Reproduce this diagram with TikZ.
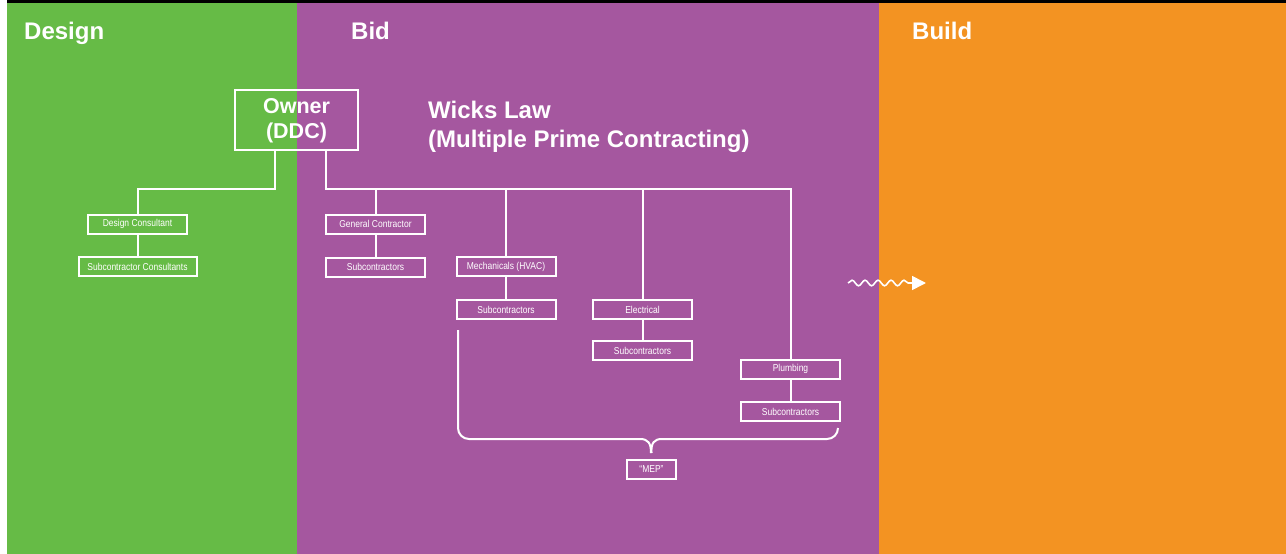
\documentclass[tikz,border=0pt]{standalone}
\usepackage{fontspec}
\setmainfont{Liberation Sans}
\newfontfamily\narrowfont[FakeStretch=0.85]{Liberation Sans}
\usetikzlibrary{decorations.pathmorphing,arrows.meta}
\definecolor{dgreen}{HTML}{66BB46}
\definecolor{dpurple}{HTML}{A5579F}
\definecolor{dorange}{HTML}{F39322}
\tikzset{
  phase/.style={text=white, font=\bfseries\fontsize{24}{28}\selectfont, anchor=base west, inner sep=0},
  bigbox/.style={draw=white, line width=2pt, text=white, align=center, inner sep=0,
     font=\bfseries\fontsize{21.5}{25}\selectfont},
  smallbox/.style={draw=white, line width=2pt, text=white, inner sep=0,
     minimum width=99, minimum height=19, font=\narrowfont\fontsize{10}{11}\selectfont},
  link/.style={draw=white, line width=2pt},
}
\begin{document}
\begin{tikzpicture}[x=1pt,y=-1pt]
\useasboundingbox (0,0) rectangle (1286,554);
\fill[white] (0,0) rectangle (1286,554);
\fill[dgreen] (7,0) rectangle (297,554);
\fill[dpurple] (297,0) rectangle (879,554);
\fill[dorange] (879,0) rectangle (1286,554);
\fill[black] (7,0) rectangle (1286,3);

\node[phase] (design) at (24,39) {Design};
\node[phase] (bid) at (351,39) {Bid};
\node[phase] (build) at (912,39) {Build};

\node[bigbox, minimum width=123, minimum height=60, text depth=4pt] (owner) at (296.5,120) {Owner\\(DDC)};
\node[text=white, font=\bfseries\fontsize{24}{29}\selectfont, align=left, anchor=west, inner sep=0] (wicks) at (428,127) {Wicks Law\\(Multiple Prime Contracting)};

\node[smallbox] (dc) at (137.5,224) {Design Consultant};
\node[smallbox, minimum width=118] (sc) at (137.5,266.5) {Subcontractor Consultants};

\node[smallbox] (gc) at (375.5,224) {General Contractor};
\node[smallbox] (gcs) at (375.5,267) {Subcontractors};
\node[smallbox] (mech) at (506,266.5) {Mechanicals (HVAC)};
\node[smallbox] (mechs) at (506,309.5) {Subcontractors};
\node[smallbox] (el) at (642.5,309.5) {Electrical};
\node[smallbox] (els) at (642.5,350.5) {Subcontractors};
\node[smallbox] (pl) at (790.5,369) {Plumbing};
\node[smallbox] (pls) at (790.5,411.5) {Subcontractors};
\node[smallbox, minimum width=49] (mep) at (651.5,469.5) {“MEP”};

\coordinate (j1) at (275,189);
\coordinate (j2) at (326,189);
\draw[link] (owner.south -| j1) -- (j1) -| (dc.north);
\draw[link] (dc.south) -- (sc.north);
\draw[link] (owner.south -| j2) -- (j2) -| (pl.north);
\draw[link] (gc.north |- j2) -- (gc.north);
\draw[link] (mech.north |- j2) -- (mech.north);
\draw[link] (el.north |- j2) -- (el.north);
\draw[link] (gc.south) -- (gcs.north);
\draw[link] (mech.south) -- (mechs.north);
\draw[link] (el.south) -- (els.north);
\draw[link] (pl.south) -- (pls.north);

% brace
\coordinate (bl) at (458,330);
\coordinate (br) at (838,429);
\draw[link] (bl) -- (458,428) arc[start angle=180, end angle=90, radius=11] -- (640,439)
  .. controls (648,439) and (651,443) .. (651,453);
\draw[link] (mep.north |- 0,453) .. controls (651,443) and (654,439) .. (662,439) -- (827,439)
  arc[start angle=90, end angle=0, radius=11];

% wavy arrow
\coordinate (w1) at (848,283);
\coordinate (w2) at (926,283);
\draw[white, line width=1.6pt, decorate, decoration={snake, amplitude=2.8pt, segment length=13pt, post length=12pt},
  -{Triangle[length=14pt,width=14pt]}] (w1) -- (w2);
\end{tikzpicture}
\end{document}
